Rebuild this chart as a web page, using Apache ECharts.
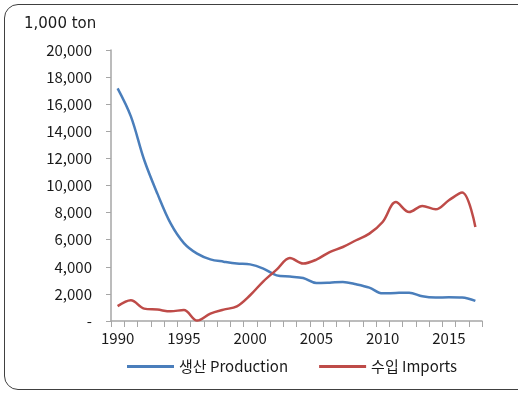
<!DOCTYPE html>
<html>
<head>
<meta charset="utf-8">
<script src="https://cdn.jsdelivr.net/npm/echarts@6/dist/echarts.min.js"></script>
<style>
  html, body { margin: 0; padding: 0; background: #fff; overflow: hidden; }
  #frame {
    position: absolute; left: 4px; top: 4px; width: 560px; height: 386px;
    border: 1px solid #404040; border-radius: 14px; box-sizing: border-box;
  }
  #chart { position: absolute; left: 0; top: 0; width: 518px; height: 394px; }
</style>
</head>
<body>
<div id="frame"></div>
<div id="chart"></div>
<script>
// years on the x axis
const years = ['1990','1991','1992','1993','1994','1995','1996','1997','1998','1999',
  '2000','2001','2002','2003','2004','2005','2006','2007','2008','2009',
  '2010','2011','2012','2013','2014','2015','2016','2017']

// 생산 Production (1,000 ton)
const production = [17170, 15100, 11900, 9400, 7200, 5750, 4970, 4550, 4380, 4240,
  4180, 3870, 3370, 3280, 3170, 2800, 2830, 2880, 2710, 2460,
  2040, 2070, 2090, 1820, 1730, 1750, 1730, 1480]

// 수입 Imports (1,000 ton)
const imports = [1100, 1530, 915, 840, 715, 810, 30, 545, 840, 1085,
  1900, 2930, 3790, 4650, 4240, 4530, 5090, 5460, 5960, 6450,
  7310, 8780, 8040, 8490, 8240, 8910, 9480, 6940]

const seriesNames = ['생산 Production', '수입 Imports']
const seriesColors = ['#4a7ebb', '#be4b48']

const font = "'Noto Sans CJK KR', 'Noto Sans', sans-serif"

const chart = echarts.init(document.getElementById('chart'))
chart.setOption({
  animation: false,
  textStyle: { fontFamily: font },
  title: {
    text: '1,000 ton',
    left: 19,
    top: 12,
    textStyle: { fontSize: 15, fontWeight: 'normal', color: '#1a1a1a', fontFamily: "'DejaVu Sans', sans-serif" }
  },
  grid: { left: 111, right: 36, top: 50, bottom: 73 },
  legend: {
    bottom: 15,
    left: 122,
    itemWidth: 47,
    itemHeight: 3,
    itemGap: 31,
    icon: 'rect',
    textStyle: { fontSize: 15, color: '#1a1a1a', fontFamily: font },
    data: seriesNames
  },
  xAxis: {
    type: 'category',
    data: years,
    boundaryGap: true,
    axisLine: { lineStyle: { color: '#a6a6a6', width: 1.5 } },
    axisTick: { show: true, interval: 0, length: 6, lineStyle: { color: '#a6a6a6' } },
    axisLabel: {
      interval: 4,
      fontSize: 15,
      color: '#1a1a1a',
      margin: 10,
      fontFamily: font
    }
  },
  yAxis: {
    type: 'value',
    min: 0,
    max: 20000,
    interval: 2000,
    splitLine: { show: false },
    axisLine: { show: true, lineStyle: { color: '#a6a6a6', width: 1.5 } },
    axisTick: { show: true, length: 5, inside: false, lineStyle: { color: '#a6a6a6' } },
    axisLabel: {
      fontSize: 15,
      color: '#1a1a1a',
      margin: 19,
      fontFamily: font,
      formatter: v => v === 0 ? '-' : v.toLocaleString('en-US')
    }
  },
  series: [{
    name: seriesNames[0],
    type: 'line',
    data: production,
    smooth: 0.35,
    showSymbol: false,
    color: seriesColors[0],
    lineStyle: { width: 2.5, color: seriesColors[0] }
  }, {
    name: seriesNames[1],
    type: 'line',
    data: imports,
    smooth: 0.35,
    showSymbol: false,
    color: seriesColors[1],
    lineStyle: { width: 2.5, color: seriesColors[1] }
  }]
})
</script>
</body>
</html>
